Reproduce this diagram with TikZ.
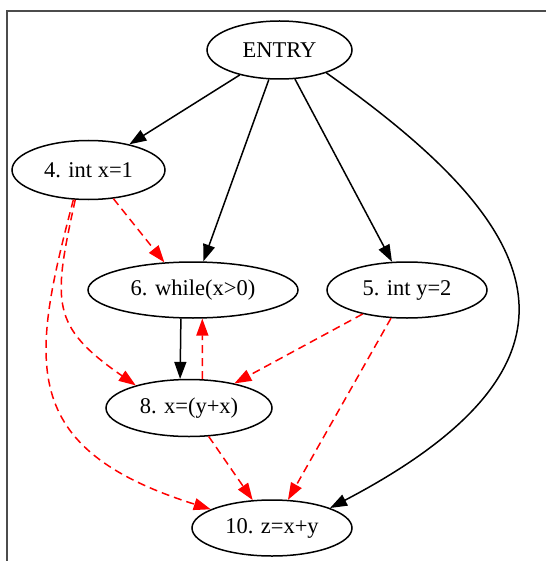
\documentclass[tikz,border=0pt]{standalone}
\usepackage{fontspec}
\setmainfont{Liberation Serif}
\usetikzlibrary{shapes.geometric,arrows.meta}
\begin{document}
\begin{tikzpicture}[x=1pt,y=-1pt,
  stmt/.style={ellipse, draw, line width=1.5pt, inner sep=0pt, font=\fontsize{22.5}{27}\selectfont},
  flow/.style={line width=1.5pt, -{Triangle[length=17pt,width=12pt]}},
  dep/.style={flow, red, dash pattern=on 8pt off 5pt}]
\useasboundingbox (0,0) rectangle (546,561);
\draw[line width=2pt, black!70] (7.3,561) -- (7.3,11.5) -- (546,11.5);

\node[stmt, minimum width=145pt, minimum height=58pt] (entry) at (279.5,50) {ENTRY};
\node[stmt, minimum width=153pt, minimum height=59pt] (n4) at (88.5,170) {4. int x=1};
\node[stmt, minimum width=210pt, minimum height=56pt] (n6) at (193,290) {6. while(x>0)};
\node[stmt, minimum width=160pt, minimum height=56pt] (n5) at (407,290) {5. int y=2};
\node[stmt, minimum width=166pt, minimum height=57pt] (n8) at (189,408) {8. x=(y+x)};
\node[stmt, minimum width=160pt, minimum height=56pt] (n10) at (272,528) {10. z=x+y};

\draw[flow] (entry) -- (n4);
\draw[flow] (entry) -- (n6);
\draw[flow] (entry) -- (n5);
\draw[flow] (entry.334) .. controls (520,210) and (632,350) .. (n10.19);
\draw[flow] (n6.247) -- (n8.107);

\draw[dep] (n4.311) -- (n6.136);
\draw[dep] (n8.65) -- (n6.288);
\draw[dep] (n4.246) .. controls (52.5,303.5) and (50.5,326) .. (n8.157);
\draw[dep] (n4.243) .. controls (31,361) and (16,448) .. (n10.163);
\draw[dep] (n5) -- (n8);
\draw[dep] (n5) -- (n10);
\draw[dep] (n8) -- (n10);
\end{tikzpicture}
\end{document}
